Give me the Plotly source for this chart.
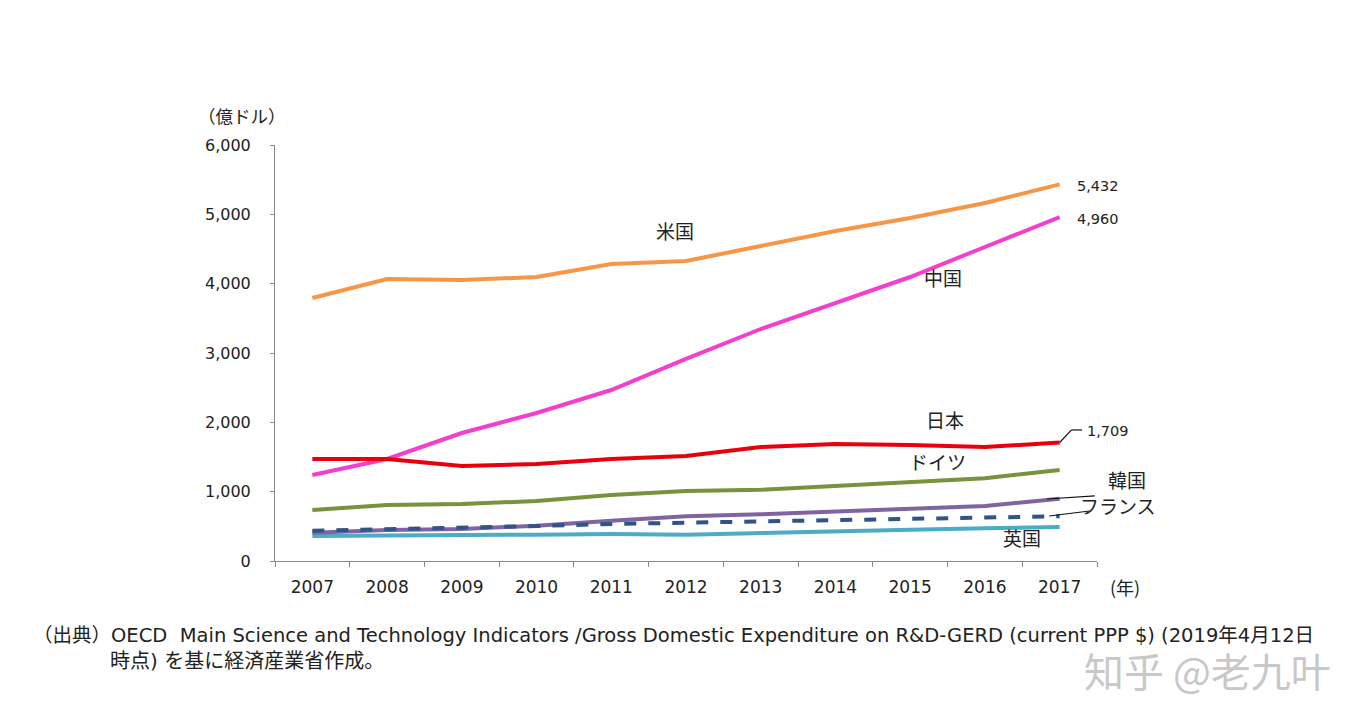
import plotly.graph_objects as go

years = ["2007", "2008", "2009", "2010", "2011", "2012", "2013", "2014", "2015", "2016", "2017"]
usa = [3793, 4067, 4053, 4096, 4284, 4327, 4543, 4760, 4947, 5163, 5432]
china = [1240, 1471, 1846, 2135, 2466, 2914, 3346, 3721, 4096, 4529, 4960]
japan = [1471, 1471, 1370, 1399, 1471, 1514, 1644, 1688, 1673, 1644, 1709]
germany = [736, 808, 822, 865, 952, 1010, 1028, 1086, 1130, 1193, 1313]
korea = [408, 447, 462, 509, 581, 645, 674, 717, 750, 793, 899]
france = [437, 457, 480, 505, 534, 553, 573, 591, 606, 625, 645]
uk = [361, 375, 375, 380, 389, 380, 408, 433, 452, 471, 490]
ytick_vals = [0, 1000, 2000, 3000, 4000, 5000, 6000]
ytick_text = ["0", "1,000", "2,000", "3,000", "4,000", "5,000", "6,000"]

FONT = "DejaVu Sans, Noto Sans CJK JP, sans-serif"
JP = "Noto Sans CJK JP, sans-serif"
TXT = "#222222"

series = [
    ("英国", uk, "#4BACC6", "solid"),
    ("韓国", korea, "#8064A2", "solid"),
    ("フランス", france, "#2F5486", "dash"),
    ("ドイツ", germany, "#77933C", "solid"),
    ("中国", china, "#F23FCE", "solid"),
    ("日本", japan, "#E8000B", "solid"),
    ("米国", usa, "#F79646", "solid"),
]

fig = go.Figure()
for name, vals, color, dash in series:
    fig.add_trace(go.Scatter(x=years, y=vals, mode="lines", name=name,
                             line=dict(color=color, width=4, dash=dash),
                             showlegend=False))

ann = []
def lab(text, x, y, size=19, xanchor="center", font=JP, xref="x"):
    ann.append(dict(text=text, x=x, y=y, xref=xref, yref="y", showarrow=False,
                    xanchor=xanchor, yanchor="middle",
                    font=dict(family=font, size=size, color=TXT)))

lab("米国", 4.85, 4774)
lab("中国", 8.44, 4096)
lab("日本", 8.47, 2034)
lab("ドイツ", 8.37, 1428)
lab("韓国", 1.0365, 1180, xref="paper")
lab("フランス", 1.0255, 795, xref="paper")
lab("英国", 9.50, 346)
lab("5,432", 10.21, 5409, size=14.5, xanchor="left", font=FONT)
lab("4,960", 10.21, 4933, size=14.5, xanchor="left", font=FONT)
lab("1,709", 10.34, 1875, size=14.5, xanchor="left", font=FONT)

ann.append(dict(text="（億ドル）", xref="paper", yref="paper", x=-0.040, y=1.0, yshift=30,
                showarrow=False, xanchor="center", yanchor="middle",
                font=dict(family=JP, size=17.5, color=TXT)))
ann.append(dict(text="(年)", xref="paper", yref="paper", x=1.034, y=0, yshift=-26,
                showarrow=False, xanchor="center", yanchor="middle",
                font=dict(family=JP, size=18, color=TXT)))
ann.append(dict(text="（出典）OECD  Main Science and Technology Indicators /Gross Domestic Expenditure on R&D-GERD (current PPP $) (2019年4月12日",
                xref="paper", yref="paper", x=-0.297, y=-0.178, showarrow=False,
                xanchor="left", yanchor="middle",
                font=dict(family=FONT, size=19.5, color=TXT)))
ann.append(dict(text="時点) を基に経済産業省作成。",
                xref="paper", yref="paper", x=-0.203, y=-0.240, showarrow=False,
                xanchor="left", yanchor="middle",
                font=dict(family=FONT, size=20, color=TXT)))
ann.append(dict(text="知乎 @老九叶", xref="paper", yref="paper", x=1.134, y=-0.262,
                showarrow=False, xanchor="center", yanchor="middle",
                font=dict(family=JP, size=40, color="#C8C8C8")))

shapes = []
def seg(x0, y0, x1, y1):
    shapes.append(dict(type="line", xref="x", yref="y", x0=x0, y0=y0, x1=x1, y1=y1,
                       line=dict(color="#111111", width=1.2)))
seg(10.0, japan[-1], 10.16, 1890)
seg(10.16, 1890, 10.3, 1890)
seg(9.83, 894, 10.47, 938)
seg(9.86, 649, 10.40, 721)

fig.update_layout(
    width=1356, height=717,
    margin=dict(l=267, r=267, t=137, b=164),
    plot_bgcolor="white", paper_bgcolor="white",
    annotations=ann, shapes=shapes,
    xaxis=dict(type="category", range=[-0.5, 10.5], tickson="boundaries",
               ticks="outside", ticklen=5, tickcolor="#888888",
               showline=True, linecolor="#888888", linewidth=1,
               showgrid=False, zeroline=False, ticklabelstandoff=11,
               tickfont=dict(family=FONT, size=17, color=TXT)),
    yaxis=dict(range=[0, 6000], tickvals=ytick_vals, ticktext=ytick_text,
               ticks="outside", ticklen=4, tickcolor="#888888",
               showline=True, linecolor="#888888", linewidth=1,
               showgrid=False, zeroline=False, ticklabelstandoff=16,
               tickfont=dict(family=FONT, size=16, color=TXT)),
)

fig.write_html("out.html")
